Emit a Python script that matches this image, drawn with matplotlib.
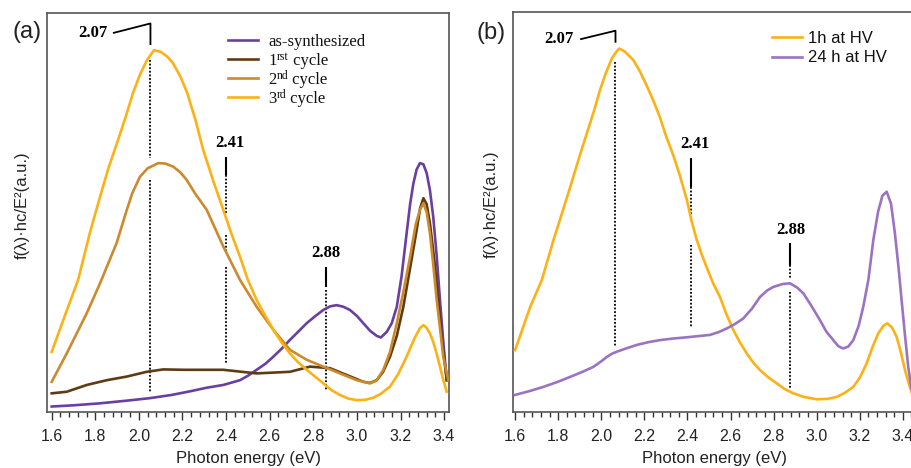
import matplotlib.pyplot as plt
from matplotlib.lines import Line2D
from matplotlib.ticker import MultipleLocator, FormatStrFormatter

plt.rcParams['font.family'] = ['Liberation Sans', 'DejaVu Sans']

# ---- panel (a): photon energy (eV) / intensity (a.u.) ----
e_assyn = [1.60, 1.70, 1.822, 1.95, 2.051, 2.15, 2.234, 2.31, 2.387, 2.464, 2.50, 2.540, 2.58,
           2.617, 2.655, 2.693, 2.73, 2.770, 2.81, 2.846, 2.877, 2.907, 2.938, 2.968, 3.00,
           3.029, 3.06, 3.091, 3.11, 3.137, 3.16, 3.183, 3.205, 3.228, 3.244, 3.259, 3.274,
           3.289, 3.305, 3.320, 3.335, 3.350, 3.366, 3.381, 3.397, 3.412]
v_assyn = [0.013, 0.016, 0.021, 0.028, 0.034, 0.042, 0.051, 0.060, 0.067, 0.079, 0.090, 0.105,
           0.120, 0.138, 0.158, 0.180, 0.200, 0.222, 0.240, 0.255, 0.264, 0.267, 0.263, 0.255,
           0.240, 0.222, 0.203, 0.190, 0.186, 0.200, 0.222, 0.263, 0.340, 0.447, 0.520, 0.572,
           0.607, 0.623, 0.620, 0.598, 0.555, 0.489, 0.390, 0.280, 0.170, 0.079]

e_cyc1 = [1.60, 1.669, 1.761, 1.853, 1.944, 2.036, 2.112, 2.204, 2.387, 2.540, 2.693, 2.785,
          2.877, 2.953, 3.029, 3.06, 3.091, 3.12, 3.152, 3.183, 3.213, 3.244, 3.274, 3.290,
          3.305, 3.320, 3.335, 3.355, 3.373, 3.39, 3.412]
v_cyc1 = [0.046, 0.050, 0.067, 0.079, 0.088, 0.100, 0.106, 0.105, 0.105, 0.096, 0.100, 0.113,
          0.109, 0.092, 0.075, 0.072, 0.079, 0.100, 0.138, 0.190, 0.263, 0.360, 0.455, 0.510,
          0.535, 0.520, 0.472, 0.380, 0.280, 0.180, 0.079]

e_cyc2 = [1.60, 1.669, 1.761, 1.822, 1.898, 1.944, 1.97, 2.005, 2.04, 2.089, 2.12, 2.158, 2.19,
          2.219, 2.26, 2.311, 2.387, 2.464, 2.540, 2.617, 2.693, 2.770, 2.846, 2.922, 2.999,
          3.060, 3.09, 3.121, 3.152, 3.183, 3.213, 3.244, 3.270, 3.289, 3.305, 3.320, 3.335,
          3.350, 3.366, 3.381, 3.396, 3.419]
v_cyc2 = [0.075, 0.146, 0.247, 0.322, 0.423, 0.505, 0.548, 0.589, 0.610, 0.623, 0.622, 0.614,
          0.600, 0.581, 0.545, 0.506, 0.414, 0.330, 0.263, 0.205, 0.155, 0.130, 0.113, 0.096,
          0.079, 0.071, 0.078, 0.105, 0.150, 0.222, 0.300, 0.388, 0.470, 0.506, 0.522, 0.500,
          0.447, 0.370, 0.280, 0.210, 0.138, 0.079]

e_cyc3 = [1.60, 1.66, 1.721, 1.776, 1.822, 1.86, 1.900, 1.94, 1.973, 2.005, 2.037, 2.069, 2.10,
          2.13, 2.156, 2.19, 2.221, 2.26, 2.295, 2.34, 2.387, 2.425, 2.464, 2.50, 2.540, 2.58,
          2.617, 2.655, 2.693, 2.73, 2.770, 2.81, 2.846, 2.88, 2.922, 2.96, 2.999, 3.04, 3.075,
          3.11, 3.152, 3.19, 3.228, 3.265, 3.290, 3.305, 3.320, 3.335, 3.350, 3.366, 3.381,
          3.396, 3.412]
v_cyc3 = [0.150, 0.240, 0.330, 0.450, 0.539, 0.610, 0.674, 0.740, 0.799, 0.845, 0.881, 0.906,
          0.902, 0.890, 0.874, 0.840, 0.800, 0.730, 0.656, 0.580, 0.506, 0.445, 0.388, 0.330,
          0.280, 0.240, 0.205, 0.173, 0.146, 0.124, 0.105, 0.087, 0.071, 0.055, 0.042, 0.033,
          0.029, 0.030, 0.035, 0.045, 0.063, 0.095, 0.138, 0.185, 0.210, 0.217, 0.210, 0.196,
          0.175, 0.145, 0.113, 0.080, 0.050]

# ---- panel (b) ----
e_1h = [1.60, 1.670, 1.724, 1.778, 1.82, 1.856, 1.90, 1.933, 1.965, 1.994, 2.02, 2.049, 2.07,
        2.084, 2.11, 2.149, 2.18, 2.211, 2.24, 2.273, 2.30, 2.335, 2.365, 2.397, 2.42, 2.443,
        2.465, 2.490, 2.52, 2.551, 2.58, 2.613, 2.645, 2.675, 2.705, 2.737, 2.775, 2.814, 2.85,
        2.891, 2.94, 3.000, 3.05, 3.093, 3.13, 3.170, 3.20, 3.232, 3.26, 3.286, 3.31, 3.328,
        3.35, 3.371, 3.39, 3.410, 3.425, 3.442]
v_1h = [0.154, 0.262, 0.329, 0.429, 0.500, 0.562, 0.640, 0.696, 0.750, 0.804, 0.845, 0.883,
        0.900, 0.908, 0.900, 0.879, 0.850, 0.815, 0.780, 0.735, 0.690, 0.640, 0.590, 0.530,
        0.475, 0.430, 0.395, 0.360, 0.320, 0.287, 0.245, 0.204, 0.172, 0.146, 0.123, 0.104,
        0.086, 0.071, 0.057, 0.046, 0.037, 0.031, 0.032, 0.037, 0.047, 0.062, 0.085, 0.121,
        0.163, 0.196, 0.215, 0.221, 0.210, 0.187, 0.150, 0.104, 0.075, 0.046]

e_24h = [1.60, 1.67, 1.731, 1.80, 1.855, 1.91, 1.963, 2.00, 2.026, 2.05, 2.072, 2.12, 2.165,
         2.22, 2.273, 2.335, 2.397, 2.45, 2.505, 2.545, 2.582, 2.62, 2.659, 2.70, 2.737, 2.77,
         2.799, 2.84, 2.876, 2.91, 2.938, 2.975, 3.015, 3.045, 3.077, 3.10, 3.123, 3.147, 3.170,
         3.195, 3.216, 3.24, 3.263, 3.285, 3.305, 3.325, 3.345, 3.363, 3.38, 3.394, 3.41,
         3.425, 3.440]
v_24h = [0.042, 0.052, 0.062, 0.075, 0.087, 0.099, 0.112, 0.126, 0.137, 0.145, 0.150, 0.159,
         0.167, 0.174, 0.179, 0.183, 0.186, 0.189, 0.192, 0.199, 0.208, 0.219, 0.233, 0.258,
         0.287, 0.303, 0.312, 0.319, 0.321, 0.310, 0.296, 0.265, 0.229, 0.200, 0.179, 0.164,
         0.158, 0.163, 0.179, 0.215, 0.262, 0.330, 0.430, 0.500, 0.540, 0.550, 0.520, 0.446,
         0.360, 0.279, 0.190, 0.112, 0.058]

tick_values = [1.6, 1.8, 2.0, 2.2, 2.4, 2.6, 2.8, 3.0, 3.2, 3.4]

# legend labels: (text, superscript, rest)
labels_a = [('as-synthesized', '', ''), ('1', 'rst', ' cycle'), ('2', 'nd', ' cycle'),
            ('3', 'rd', ' cycle')]
labels_b = [('1h at HV', '', ''), ('24 h at HV', '', '')]

c_assyn = '#6a3fa0'
c_cyc1 = '#5e3c13'
c_cyc2 = '#cc8a2c'
c_cyc3 = '#fcb215'
c_1h = '#fcb117'
c_24h = '#9b73c2'

W, H = 912, 468
fig = plt.figure(figsize=(W / 100, H / 100), dpi=100)
ax_a = fig.add_axes([0.0519, 0.1203, 0.4408, 0.8526])
ax_b = fig.add_axes([0.5622, 0.1203, 0.4422, 0.8547])


def style_axes(ax, xmin, xmax):
    ax.set_xlim(xmin, xmax)
    ax.set_ylim(0, 1)
    ax.set_yticks([])
    ax.set_xticks(tick_values)
    ax.xaxis.set_major_formatter(FormatStrFormatter('%.1f'))
    ax.xaxis.set_minor_locator(MultipleLocator(0.04))
    ax.tick_params(axis='x', which='major', direction='out', length=6, width=1,
                   color='#333333', labelsize=11.5, labelcolor='#222222', pad=6.5)
    ax.tick_params(axis='x', which='minor', direction='out', length=3.5, width=1,
                   color='#333333')
    for s in ax.spines.values():
        s.set_color('#555555')
        s.set_linewidth(1.2)
    ax.set_xlabel('Photon energy (eV)', fontsize=12, color='#222222', labelpad=5)
    ax.set_ylabel('f(λ)·hc/E²(a.u.)', fontsize=12, color='#222222')


def mark_peak(ax, label, text_xy, x_line, solid, dotted, bracket=None):
    ax.text(text_xy[0], text_xy[1], label, ha='center', va='center', fontsize=12,
            fontweight='bold', family='Liberation Serif')
    if bracket is not None:
        ax.plot([p[0] for p in bracket], [p[1] for p in bracket], color='black', lw=1.3,
                solid_capstyle='butt', zorder=1)
    if solid is not None:
        ax.plot([x_line, x_line], solid, color='black', lw=1.5, solid_capstyle='butt', zorder=1)
    for seg in dotted:
        ax.plot([x_line, x_line], seg, color='black', lw=1.3, ls=(0, (1, 1)), zorder=1)


def legend_rows(ax, labels, colors, x0, y0, step, text_dx, family):
    # legend drawn in figure pixels so the rows keep an even spacing
    for i, ((base, sup, rest), col) in enumerate(zip(labels, colors)):
        y = H - (y0 + i * step)
        fig.add_artist(Line2D([x0 / W, (x0 + 30) / W], [y / H, y / H], color=col, lw=1.9))
        t = fig.text((x0 + 30 + text_dx) / W, (y - 5.5) / H, base, fontsize=12,
                     family=family, ha='left', va='baseline', color='#111111')
        if sup:
            s = ax.annotate(sup, xy=(1, 0), xycoords=t, xytext=(0.3, 4.0),
                            textcoords='offset points', fontsize=8.5, family=family,
                            ha='left', va='bottom', color='#111111', annotation_clip=False)
            ax.annotate(rest, xy=(1, 0), xycoords=(s, t), ha='left', va='bottom',
                        fontsize=12, family=family, color='#111111', annotation_clip=False)


# ---- panel (a) ----
style_axes(ax_a, 1.58, 3.424)
lw = 1.9
ax_a.plot(e_assyn, v_assyn, color=c_assyn, lw=lw, zorder=3)
ax_a.plot(e_cyc1, v_cyc1, color=c_cyc1, lw=lw, zorder=3)
ax_a.plot(e_cyc2, v_cyc2, color=c_cyc2, lw=lw, zorder=3)
ax_a.plot(e_cyc3, v_cyc3, color=c_cyc3, lw=lw, zorder=3)

mark_peak(ax_a, '2.07', (1.789, 0.949), 2.053, None,
          [(0.881, 0.636), (0.581, 0.047)],
          bracket=[(1.881, 0.949), (2.053, 0.973), (2.053, 0.919)])
mark_peak(ax_a, '2.41', (2.419, 0.673), 2.400, (0.639, 0.593),
          [(0.593, 0.498), (0.443, 0.400), (0.363, 0.121)])
mark_peak(ax_a, '2.88', (2.858, 0.397), 2.858, (0.363, 0.313),
          [(0.305, 0.054)])

legend_rows(ax_a, labels_a, [c_assyn, c_cyc1, c_cyc2, c_cyc3], 228, 40, 19.1, 10,
            'Liberation Serif')
ax_a.yaxis.set_label_coords(-0.043, 0.518)
fig.text(27 / W, 1 - 32 / H, '(a)', fontsize=17, ha='center', va='center', color='#222222')

# ---- panel (b) ----
style_axes(ax_b, 1.589, 3.461)
ax_b.plot(e_1h, v_1h, color=c_1h, lw=lw, zorder=3)
ax_b.plot(e_24h, v_24h, color=c_24h, lw=lw, zorder=3)

mark_peak(ax_b, '2.07', (1.801, 0.931), 2.066, None,
          [(0.875, 0.1625)],
          bracket=[(1.902, 0.931), (2.066, 0.9525), (2.066, 0.9225)])
mark_peak(ax_b, '2.41', (2.435, 0.669), 2.417, (0.634, 0.5625),
          [(0.5625, 0.489), (0.417, 0.2085)])
mark_peak(ax_b, '2.88', (2.879, 0.454), 2.876, (0.421, 0.367),
          [(0.367, 0.334), (0.299, 0.0585)])

legend_rows(ax_b, labels_b, [c_1h, c_24h], 772, 37.3, 19.4, 6, 'Liberation Sans')
ax_b.yaxis.set_label_coords(-0.034, 0.518)
fig.text(491 / W, 1 - 33 / H, '(b)', fontsize=17, ha='center', va='center', color='#222222')

fig.savefig('out.png', dpi=100)
